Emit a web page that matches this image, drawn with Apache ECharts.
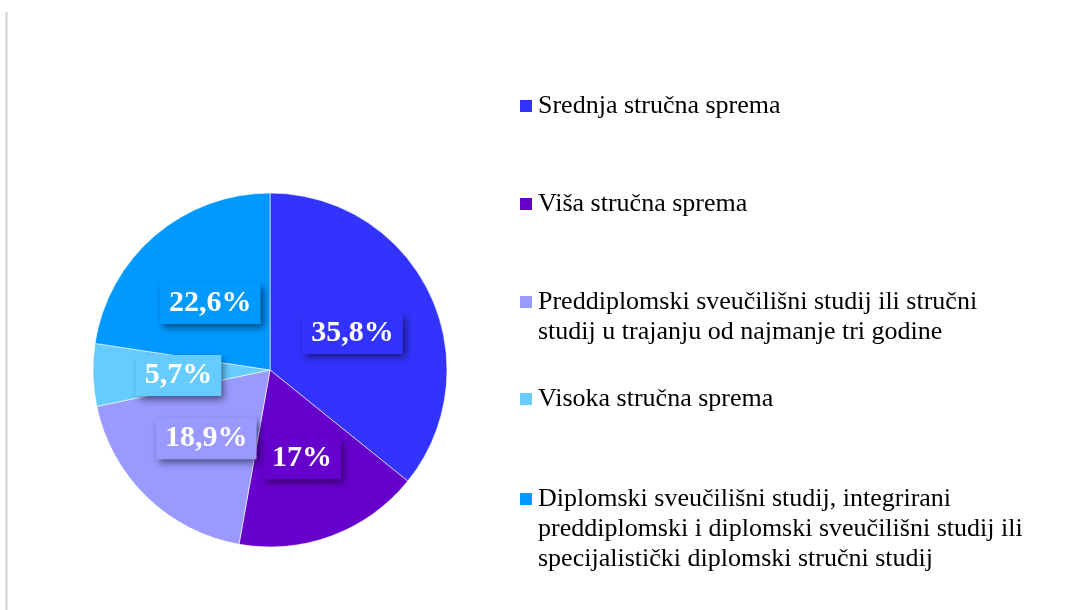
<html>
  <head>
    <meta charset="utf-8">
    <script src="https://cdn.jsdelivr.net/npm/echarts@6.0.0/dist/echarts.min.js"></script>
    <title>Stručna sprema</title>
  </head>
  <body style="margin:0; background-color:#ffffff;">
    <div id="chart" style="width:1065px; height:610px;"></div>
    <script>
      // data
      const categories = [
        'Srednja stručna sprema',
        'Viša stručna sprema',
        'Preddiplomski sveučilišni studij ili stručni studij u trajanju od najmanje tri godine',
        'Visoka stručna sprema',
        'Diplomski sveučilišni studij, integrirani preddiplomski i diplomski sveučilišni studij ili specijalistički diplomski stručni studij'
      ]
      const legendLines = [
        ['Srednja stručna sprema'],
        ['Viša stručna sprema'],
        ['Preddiplomski sveučilišni studij ili stručni', 'studij u trajanju od najmanje tri godine'],
        ['Visoka stručna sprema'],
        ['Diplomski sveučilišni studij, integrirani', 'preddiplomski i diplomski sveučilišni studij ili', 'specijalistički diplomski stručni studij']
      ]
      const shares = [35.8, 17, 18.9, 5.7, 22.6]
      const colorPalette = ['#3333ff', '#6600cc', '#9999ff', '#66ccff', '#0099ff']

      const serif = "'Liberation Serif', 'Times New Roman', serif"
      const lineH = 30
      // vertical centre of the first line of each legend entry
      const legendLineY = [106, 204, 302, 399, 499]

      const chart = echarts.init(document.getElementById('chart'), null, { renderer: 'canvas' })

      const legends = categories.map((name, i) => {
        const n = legendLines[i].length
        return {
          show: true,
          orient: 'vertical',
          left: 518,
          top: legendLineY[i] - (2 * n - 1) * lineH / 2,
          padding: 0,
          selectedMode: false,
          icon: 'rect',
          itemWidth: 14,
          itemHeight: 14,
          data: [name],
          // blank lines in front keep the marker beside the first real line
          formatter: () => '\n'.repeat(n - 1) + legendLines[i].join('\n'),
          textStyle: {
            fontFamily: serif,
            fontSize: 26,
            lineHeight: lineH,
            color: '#000000'
          }
        }
      })

      const chartData = categories.map((name, i) => ({
        name: name,
        value: shares[i],
        itemStyle: { color: colorPalette[i] },
        label: { backgroundColor: colorPalette[i] }
      }))

      const option = {
        animation: false,
        backgroundColor: '#ffffff',
        legend: legends,
        graphic: [
          {
            type: 'line',
            shape: { x1: 6.5, y1: 12, x2: 6.5, y2: 610 },
            style: { stroke: '#cfcfcf', lineWidth: 2 }
          }
        ],
        series: [
          {
            type: 'pie',
            center: [270, 370],
            radius: 177,
            startAngle: 90,
            clockwise: true,
            avoidLabelOverlap: false,
            itemStyle: {
              borderColor: '#ffffff',
              borderWidth: 0.6
            },
            label: {
              show: true,
              position: 'inside',
              offset: [0, 3],
              formatter: p => String(p.value).replace('.', ',') + '%',
              fontFamily: serif,
              fontWeight: 'bold',
              fontSize: 30,
              lineHeight: 30,
              color: '#ffffff',
              padding: [6, 9, 5, 9],
              shadowColor: 'rgba(0, 0, 0, 0.5)',
              shadowBlur: 7,
              shadowOffsetX: 3,
              shadowOffsetY: 4
            },
            labelLine: { show: false },
            emphasis: { disabled: true },
            data: chartData
          }
        ]
      }

      chart.setOption(option)
    </script>
  </body>
</html>
